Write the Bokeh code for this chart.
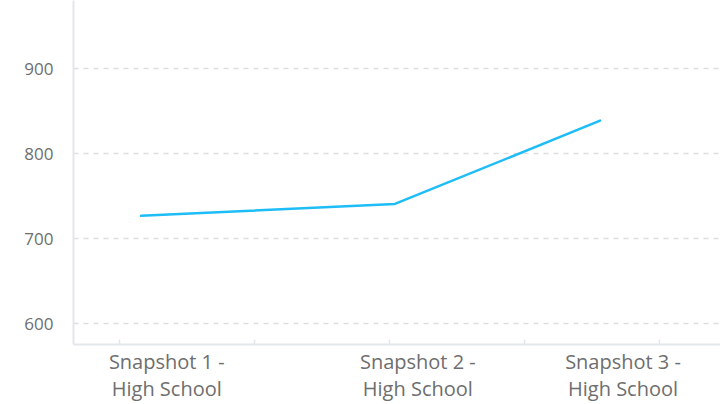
from bokeh.plotting import figure
from bokeh.models import FixedTicker, Range1d, ColumnDataSource
from bokeh.embed import file_html
from bokeh.resources import INLINE

# ---- data ----
categories = ["Snapshot 1 -\nHigh School", "Snapshot 2 -\nHigh School", "Snapshot 3 -\nHigh School"]
point_x = [0.16, 2.04, 3.56]      # x position of each snapshot's point
label_x = [0.35, 2.21, 3.73]      # x position of each category label
tick_x = [0, 1, 2, 3, 4]          # x-axis tick marks
values = [727, 741, 839]
y_ticks = [600, 700, 800, 900]

FONT = "Open Sans"
LABEL_COLOR = "#6e6e6e"
AXIS_COLOR = "#e3e6ea"

p = figure(width=720, height=404, output_backend="svg", toolbar_location=None,
           x_range=Range1d(-0.341, 4.452), y_range=Range1d(575.6, 980.4),
           min_border_left=73, min_border_right=0, min_border_top=0, min_border_bottom=60)
p.outline_line_color = None
p.background_fill_color = "white"
p.border_fill_color = "white"

src = ColumnDataSource(dict(x=point_x, y=values))
p.line("x", "y", source=src, line_color="#1ebdf8", line_width=2.5, line_join="round", line_cap="round")

# x axis
xa = p.xaxis[0]
xa.ticker = FixedTicker(ticks=label_x, minor_ticks=tick_x)
xa.major_label_overrides = {lx: c for lx, c in zip(label_x, categories)}
xa.major_tick_line_color = None
xa.major_tick_out = 0
xa.major_tick_in = 0
xa.minor_tick_line_color = AXIS_COLOR
xa.minor_tick_in = 5
xa.minor_tick_out = 0
xa.minor_tick_line_width = 1.5
xa.axis_line_color = AXIS_COLOR
xa.axis_line_width = 2
xa.major_label_text_font = FONT
xa.major_label_text_font_size = "20px"
xa.major_label_text_color = LABEL_COLOR
xa.major_label_text_line_height = 1.0
xa.major_label_standoff = 3

# y axis
ya = p.yaxis[0]
ya.ticker = FixedTicker(ticks=y_ticks)
ya.major_tick_line_color = None
ya.minor_tick_line_color = None
ya.major_tick_out = 0
ya.major_tick_in = 0
ya.axis_line_color = AXIS_COLOR
ya.axis_line_width = 2
ya.major_label_text_font = FONT
ya.major_label_text_font_size = "17px"
ya.major_label_text_color = LABEL_COLOR
ya.major_label_standoff = 20

p.xgrid.grid_line_color = None
p.ygrid.ticker = FixedTicker(ticks=y_ticks)
p.ygrid.grid_line_color = "#dedede"
p.ygrid.grid_line_dash = "5 5"
p.ygrid.grid_line_width = 1.5

open("out.html", "w").write(file_html(p, INLINE))
